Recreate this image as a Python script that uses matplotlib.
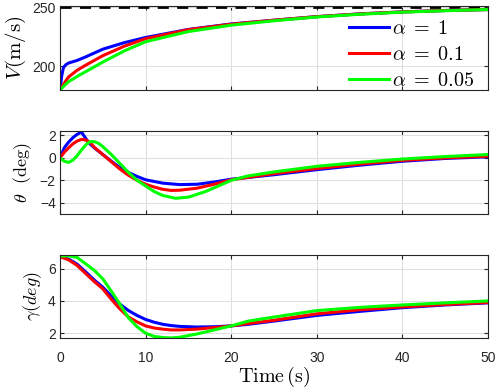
import matplotlib
matplotlib.use("Agg")
import matplotlib.pyplot as plt

plt.rcParams['font.family'] = ['Liberation Sans', 'DejaVu Sans']
plt.rcParams['mathtext.fontset'] = 'cm'

# velocity V (m/s)
t_v = [0, 0.2, 0.4, 0.7, 1, 2, 3, 5, 7.5, 10, 15, 20, 25, 30, 35, 40, 45, 50]
v_a1 = [180, 192, 199, 201.5, 202.8, 205, 208, 214.5, 220, 224.4, 231.2, 235.8, 239, 242, 244.3, 246, 247.2, 248]
v_a01 = [180, 182.5, 184.5, 188, 191, 196.7, 201, 209, 217, 223.4, 231, 235.6, 239, 242, 244.3, 246, 247.2, 248]
v_a005 = [180, 181.5, 183, 185, 187, 191.5, 195.5, 203.6, 213, 220.8, 229.4, 234.8, 238.5, 241.7, 244, 245.8, 247,
          248]
v_ref = 250

# pitch angle theta (deg)
t_th_a1 = [0, 0.5, 1, 1.5, 2, 2.5, 3, 3.3, 4, 5, 6, 7, 8, 9, 10, 12, 14, 16, 18, 20, 25, 30, 35, 40, 45, 50]
th_a1 = [0, 0.9, 1.4, 1.8, 2.1, 2.3, 1.75, 1.4, 0.9, 0.3, -0.3, -0.85, -1.3, -1.65, -1.95, -2.25, -2.38, -2.35,
         -2.15, -1.9, -1.5, -1.05, -0.65, -0.3, -0.05, 0.1]
t_th_a01 = [0, 0.5, 1, 1.5, 2, 2.5, 3, 3.5, 4, 5, 6, 7, 8, 9, 10, 11, 12, 13, 14, 16, 18, 20, 25, 30, 35, 40, 45, 50]
th_a01 = [0, 0.5, 0.9, 1.25, 1.5, 1.65, 1.6, 1.4, 0.95, 0.3, -0.35, -1.0, -1.55, -2.0, -2.35, -2.6, -2.8, -2.9,
          -2.88, -2.7, -2.35, -1.95, -1.4, -0.95, -0.55, -0.22, 0.0, 0.15]
t_th_a005 = [0, 0.5, 1, 1.5, 2, 2.5, 3, 3.5, 4, 4.5, 5, 6, 7, 8, 9, 10, 11, 12, 13.5, 15, 17, 20, 22, 25, 30, 35,
             40, 45, 50]
th_a005 = [0, -0.3, -0.4, -0.2, 0.2, 0.7, 1.15, 1.45, 1.45, 1.3, 1.0, 0.3, -0.5, -1.3, -2.0, -2.5, -3.0, -3.35,
           -3.6, -3.5, -3.0, -2.0, -1.6, -1.25, -0.75, -0.4, -0.1, 0.12, 0.3]

# flight path angle gamma (deg)
t_g = [0, 1, 2, 3, 4, 5, 6, 7, 8, 9, 10, 11, 12, 13, 14, 16, 18, 20, 22, 25, 30, 35, 40, 45, 50]
g_a1 = [6.75, 6.6, 6.28, 5.8, 5.3, 4.85, 4.3, 3.8, 3.4, 3.1, 2.85, 2.68, 2.55, 2.47, 2.42, 2.38, 2.4, 2.45, 2.55,
        2.75, 3.1, 3.35, 3.58, 3.75, 3.88]
g_a01 = [6.75, 6.55, 6.2, 5.7, 5.2, 4.75, 4.1, 3.5, 3.0, 2.7, 2.45, 2.32, 2.25, 2.2, 2.2, 2.25, 2.35, 2.45, 2.6,
         2.8, 3.2, 3.45, 3.63, 3.78, 3.9]
g_a005 = [6.78, 6.8, 6.7, 6.3, 5.9, 5.37, 4.6, 3.8, 2.95, 2.4, 2.0, 1.8, 1.73, 1.7, 1.75, 1.95, 2.2, 2.45, 2.75,
          3.0, 3.4, 3.6, 3.75, 3.88, 4.0]

labels = [r'$\alpha\;=\;1$', r'$\alpha\;=\;0.1$', r'$\alpha\;=\;0.05$']
colors = ['#0000ff', '#ff0000', '#00ff00']

fig = plt.figure(figsize=(4.98, 3.89), dpi=100)
ax1 = fig.add_axes([0.1205, 0.7686, 0.8594, 0.216])
ax2 = fig.add_axes([0.1205, 0.4499, 0.8594, 0.2134])
ax3 = fig.add_axes([0.1205, 0.1311, 0.8594, 0.2134])

lw = 2.2
ax1.axhline(v_ref, color='k', lw=2, ls=(0, (4, 3)))
ax1.plot(t_v, v_a1, color=colors[0], lw=lw, label=labels[0])
ax1.plot(t_v, v_a01, color=colors[1], lw=lw, label=labels[1])
ax1.plot(t_v, v_a005, color=colors[2], lw=lw, label=labels[2])
ax1.set_ylim(180, 251)
ax1.set_yticks([200, 250])
ax1.set_ylabel(r'$V(\mathrm{m/s})$', fontsize=15, labelpad=3)
ax1.legend(loc='lower right', frameon=False, fontsize=14.5, handlelength=2.0, handletextpad=0.15,
           labelspacing=0.35, borderaxespad=0.0, bbox_to_anchor=(0.987, -0.10))

ax2.plot(t_th_a1, th_a1, color=colors[0], lw=lw)
ax2.plot(t_th_a01, th_a01, color=colors[1], lw=lw)
ax2.plot(t_th_a005, th_a005, color=colors[2], lw=lw)
ax2.set_ylim(-5, 2.4)
ax2.set_yticks([-4, -2, 0, 2])
ax2.set_ylabel(r'$\theta\ \ (\mathrm{deg})$', fontsize=13, labelpad=4)

ax3.plot(t_g, g_a1, color=colors[0], lw=lw)
ax3.plot(t_g, g_a01, color=colors[1], lw=lw)
ax3.plot(t_g, g_a005, color=colors[2], lw=lw)
ax3.set_ylim(1.7, 6.85)
ax3.set_yticks([2, 4, 6])
ax3.set_ylabel(r'$\gamma(deg)$', fontsize=13, labelpad=3)
ax3.set_xlabel(r'$\mathrm{Time\,(s)}$', fontsize=14.5, labelpad=0)

for ax in (ax1, ax2, ax3):
    ax.set_xlim(0, 50)
    ax.set_xticks([0, 10, 20, 30, 40, 50])
    ax.grid(True, color='#e0e0e0', lw=0.8)
    ax.set_axisbelow(True)
    ax.tick_params(direction='in', top=True, right=True, labelsize=10, colors='#262626', length=3, pad=3)
    for s in ax.spines.values():
        s.set_color('#262626')
        s.set_linewidth(0.8)
ax1.tick_params(labelbottom=False)
ax2.tick_params(labelbottom=False)
ax3.tick_params(axis='x', pad=9)

fig.savefig('out.png', dpi=100)
